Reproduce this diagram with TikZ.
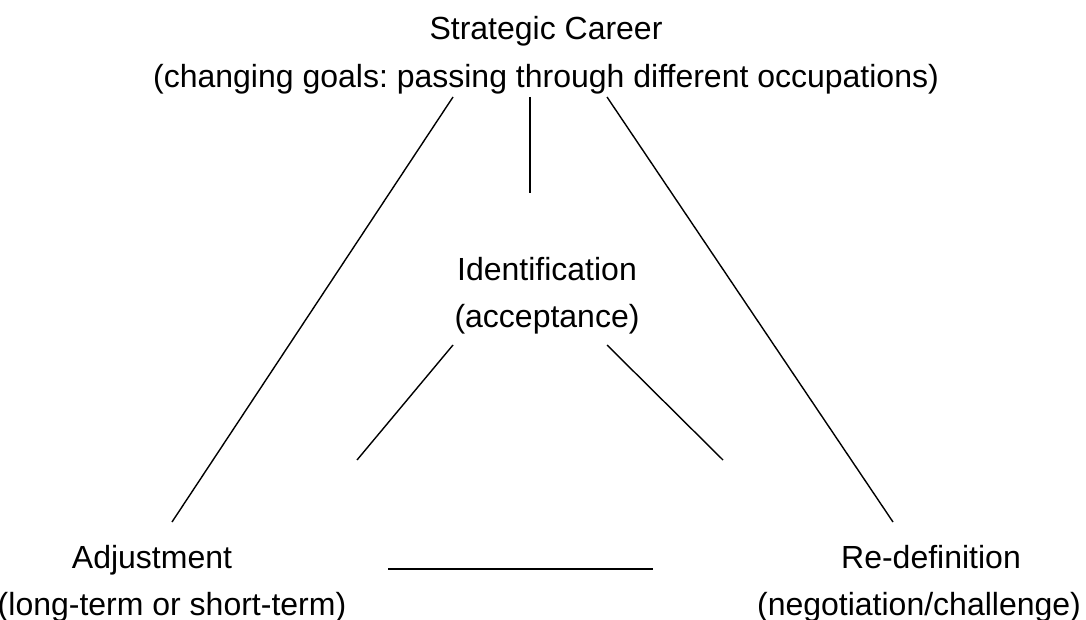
\documentclass[tikz,border=0pt]{standalone}
\usepackage{fontspec}
\setmainfont{Liberation Sans}
\usepackage{tikz}
\frenchspacing
\tikzstyle{label} = [inner sep=0pt, anchor=base, font=\fontsize{16pt}{23.5pt}\selectfont]
\tikzstyle{link} = [line width=0.7pt, black]

\begin{document}
\begin{tikzpicture}
			[x=0.5pt, y=-0.5pt]
			\useasboundingbox (0,0) rectangle (1086,620);

			\node (career) [label] at (546,40) {Strategic Career};
			\node (careersub) [label] at (546,88) {(changing goals: passing through different occupations)};
			\node (ident) [label] at (547,280) {Identification};
			\node (identsub) [label] at (547,327) {(acceptance)};
			\node (adj) [label] at (152,568) {Adjustment};
			\node (adjsub) [label] at (172,615) {(long-term or short-term)};
			\node (redef) [label] at (931,568) {Re-definition};
			\node (redefsub) [label] at (919,615) {(negotiation/challenge)};

			\coordinate (topl) at (453,97);
			\coordinate (topm) at (530,97);
			\coordinate (topr) at (607,97);
			\coordinate (midm) at (530,193);
			\coordinate (adjend) at (172,522);
			\coordinate (redefend) at (893,522);
			\coordinate (identl) at (453,345);
			\coordinate (identr) at (607,345);
			\coordinate (lowl) at (357,460);
			\coordinate (lowr) at (723,460);
			\coordinate (basel) at (388,569);
			\coordinate (baser) at (653,569);

			\draw [link] (topl) -- (adjend);
			\draw [link] (topm) -- (midm);
			\draw [link] (topr) -- (redefend);
			\draw [link] (identl) -- (lowl);
			\draw [link] (identr) -- (lowr);
			\draw [link, line width=0.9pt] (basel) -- (baser);

			\end{tikzpicture}
\end{document}
